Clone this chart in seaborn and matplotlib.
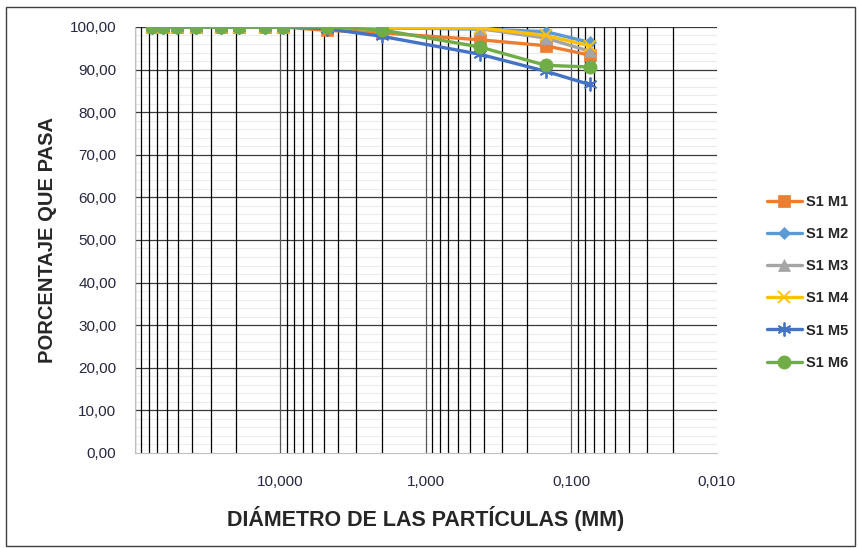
import numpy as np
import pandas as pd
import matplotlib
matplotlib.use('Agg')
import matplotlib.pyplot as plt
import matplotlib.ticker as mticker
from matplotlib.patches import Rectangle
import seaborn as sns

# Tamices (mm) y porcentaje que pasa por muestra
diametros = [76.2, 63.5, 50.8, 38.1, 25.4, 19.05, 12.7, 9.525, 4.76, 2.0, 0.425, 0.15, 0.075]
s1_m1 = [100, 100, 100, 100, 100, 100, 100, 100, 99.2, 98.6, 97.0, 95.6, 93.4]
s1_m2 = [100, 100, 100, 100, 100, 100, 100, 100, 100, 99.8, 99.5, 98.9, 96.4]
s1_m3 = [100, 100, 100, 100, 100, 100, 100, 100, 100, 99.8, 99.6, 97.4, 94.3]
s1_m4 = [100, 100, 100, 100, 100, 100, 100, 100, 100, 99.9, 99.8, 98.0, 95.6]
s1_m5 = [100, 100, 100, 100, 100, 100, 100, 100, 99.6, 97.8, 93.6, 89.6, 86.5]
s1_m6 = [100, 100, 100, 100, 100, 100, 100, 100, 100, 99.3, 95.3, 91.0, 90.6]

nombres = ['S1 M1', 'S1 M2', 'S1 M3', 'S1 M4', 'S1 M5', 'S1 M6']
series = [s1_m1, s1_m2, s1_m3, s1_m4, s1_m5, s1_m6]
colores = ['#ED7D31', '#5B9BD5', '#A5A5A5', '#FFC000', '#4472C4', '#70AD47']
marcadores = ['s', 'D', '^', 'x', (6, 2, 0), 'o']
tamanos = [8.5, 6.5, 9, 9, 10, 9.5]

x_ticks = [10, 1, 0.1, 0.01]
x_labels = ['10,000', '1,000', '0,100', '0,010']
y_ticks = list(range(0, 101, 10))

sns.set_style('white')
plt.rcParams['font.family'] = ['Liberation Sans', 'DejaVu Sans']

fig = plt.figure(figsize=(8.59, 5.48), dpi=100)
ax = fig.add_axes([0.1566, 0.1734, 0.678, 0.7774])

df = pd.DataFrame({'diametro': diametros})
for nombre, vals, c, m, s in zip(nombres, series, colores, marcadores, tamanos):
    df[nombre] = vals
    sns.lineplot(data=df, x='diametro', y=nombre, ax=ax, color=c, marker=m,
                 markersize=s, markeredgecolor=c,
                 markeredgewidth=1.3 if m in ('x', (6, 2, 0)) else 0.5,
                 linewidth=2.4, label=nombre, sort=False, zorder=3)

ax.set_xscale('log')
ax.set_xlim(100, 0.01)
ax.set_ylim(0, 100)

ax.xaxis.set_major_locator(mticker.FixedLocator(x_ticks))
ax.xaxis.set_major_formatter(mticker.FixedFormatter(x_labels))
ax.xaxis.set_minor_locator(mticker.NullLocator())
ax.set_yticks(y_ticks)
ax.set_yticklabels([f'{v:.2f}'.replace('.', ',') for v in y_ticks])
ax.grid(False)

# rejilla: horizontales menores, horizontales mayores, verticales logaritmicas
for v in range(0, 101, 2):
    if v % 10:
        ax.axhline(v, color='#ececec', lw=0.8, zorder=0.1)
for v in y_ticks[1:]:
    ax.axhline(v, color='#3a3a3a', lw=0.9, zorder=0.2)
for dec in [100, 10, 1, 0.1]:
    for k in range(1, 10):
        ax.axvline(dec * k / 10 if k > 1 else dec, color='black' if k > 1 else '#595959',
                   lw=0.9, zorder=0.3)

for lado in ['top', 'right']:
    ax.spines[lado].set_visible(False)
ax.spines['bottom'].set_color('#bfbfbf')
ax.spines['left'].set_color('#bfbfbf')
ax.tick_params(axis='x', which='major', direction='out', length=5, color='#bfbfbf',
               labelsize=11, labelcolor='#262640', pad=11)
ax.tick_params(axis='y', which='major', direction='out', length=6, color='#7f7f7f',
               labelsize=11, labelcolor='#262640', pad=7)

ax.set_xlabel('DIÁMETRO DE LAS PARTÍCULAS (MM)', fontsize=15.5, fontweight='bold', labelpad=12)
ax.set_ylabel('PORCENTAJE QUE PASA', fontsize=14.5, fontweight='bold', labelpad=9)

ax.legend(loc='center left', bbox_to_anchor=(0.886, 0.485), bbox_transform=fig.transFigure,
          frameon=False, handlelength=2.4, labelspacing=1.25,
          prop={'weight': 'bold', 'size': 10.5}, handletextpad=0.3, borderaxespad=0)

fig.patches.append(Rectangle((6 / 859, 2 / 548), 849 / 859, 539 / 548, transform=fig.transFigure,
                             fill=False, edgecolor='#404040', lw=1.0))

fig.savefig('out.png', dpi=100)
